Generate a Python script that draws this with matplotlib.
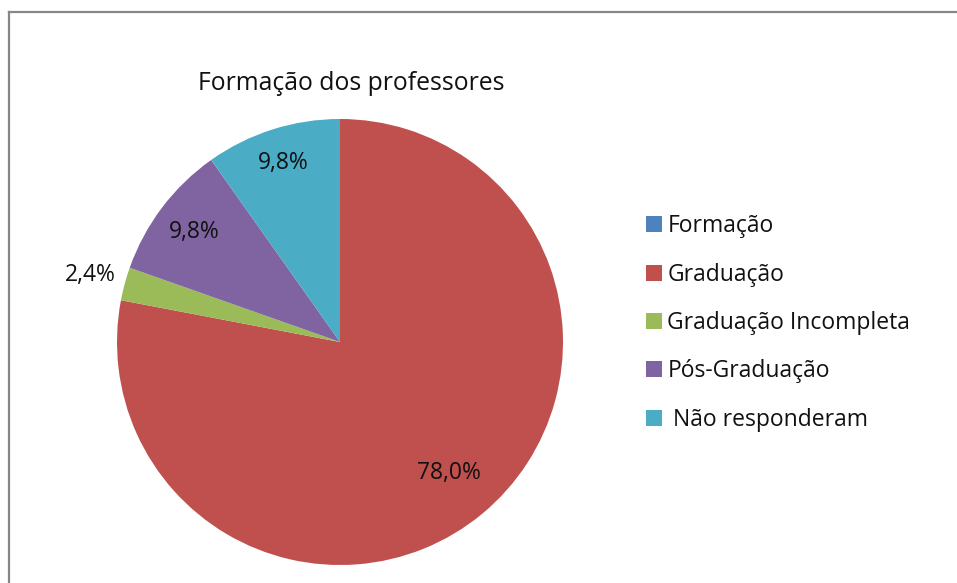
import numpy as np
import matplotlib.pyplot as plt
from matplotlib.lines import Line2D

plt.rcParams['font.family'] = ['Open Sans', 'DejaVu Sans']

# data
categorias = ['Formação', 'Graduação', 'Graduação Incompleta', 'Pós-Graduação', ' Não responderam']
percentuais = [0.0, 78.0, 2.4, 9.8, 9.8]
cores = ['#4F81BD', '#C0504D', '#9BBB59', '#8064A2', '#4BACC6']
dist_rotulo = [0.8, 0.765, 1.16, 0.82, 0.84]

fig = plt.figure(figsize=(9.57, 5.83), dpi=100)
W, H = 957, 583

# chart border (left + top visible)
fig.add_artist(Line2D([9 / W, 9 / W], [0, 1 - 12 / H], transform=fig.transFigure,
                      color='#878787', lw=1.6))
fig.add_artist(Line2D([9 / W, 1], [1 - 12 / H, 1 - 12 / H], transform=fig.transFigure,
                      color='#878787', lw=1.6))

cx, cy, r = 340, 342, 223
ax = fig.add_axes([(cx - r) / W, (H - cy - r) / H, 2 * r / W, 2 * r / H])
wedges, _ = ax.pie(percentuais, colors=cores, startangle=90, counterclock=False,
                   wedgeprops=dict(linewidth=0))
ax.set_xlim(-1, 1)
ax.set_ylim(-1, 1)
ax.axis('off')

# percentage labels
for w, v, d in zip(wedges, percentuais, dist_rotulo):
    if v == 0:
        continue
    ang = np.deg2rad((w.theta1 + w.theta2) / 2)
    ax.text(d * np.cos(ang), d * np.sin(ang), f'{v:.1f}%'.replace('.', ','),
            ha='center', va='center', fontsize=16.5, color='#111111')

fig.text(351 / W, 1 - 83 / H, 'Formação dos professores', ha='center', va='center',
         fontsize=17.8, color='#111111')

fig.legend(wedges, categorias, loc='center left', bbox_to_anchor=(625 / W, 1 - 323 / H),
           frameon=False, fontsize=16.5, handlelength=0.7, handleheight=0.7,
           handletextpad=0.25, labelspacing=1.06, labelcolor='#111111')

fig.savefig('out.png', dpi=100)
